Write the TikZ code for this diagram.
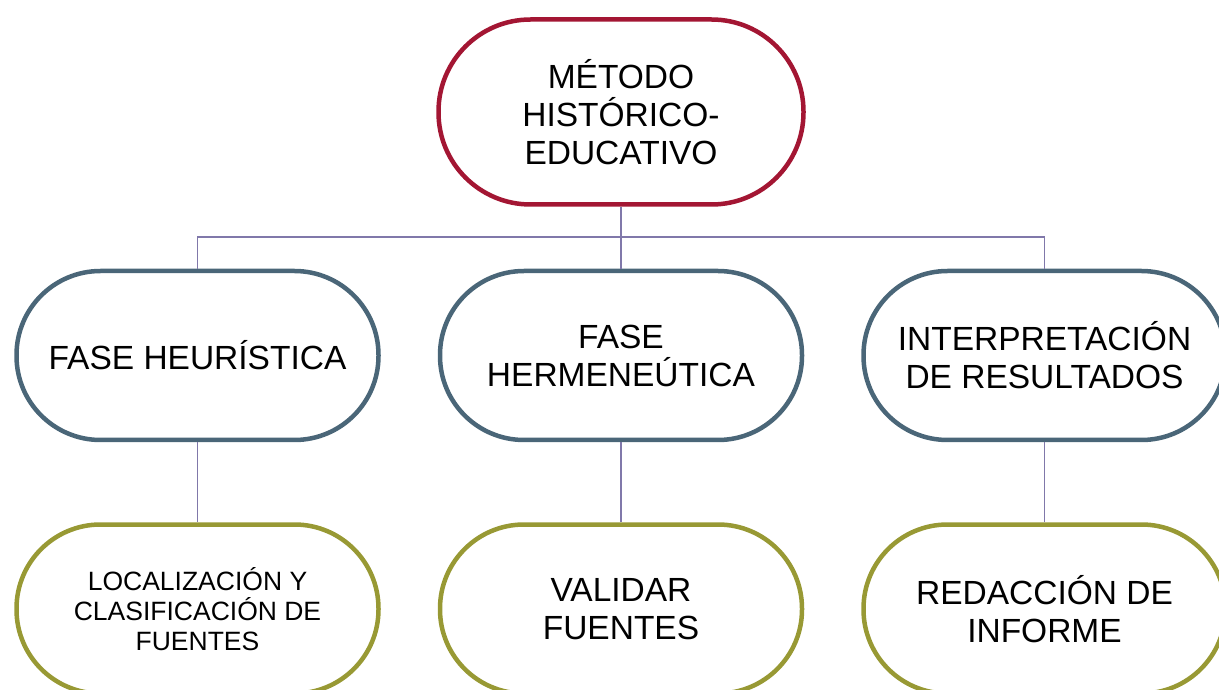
\documentclass[tikz,border=0pt]{standalone}
\usepackage{fontspec}
\setmainfont{Liberation Sans}
\usetikzlibrary{positioning}
\definecolor{metodored}{RGB}{163,22,51}
\definecolor{faseblue}{RGB}{74,102,120}
\definecolor{tareaolive}{RGB}{152,153,52}
\definecolor{linkpurple}{RGB}{128,120,170}
\begin{document}
\begin{tikzpicture}[x=1pt, y=1pt, node distance={62pt and 57pt},
    box/.style = {draw, rectangle, rounded corners=84pt, line width=4.5pt, fill=white, minimum width=362pt, minimum height=169pt, inner sep=2pt, align=center, font=\fontsize{33.5}{38}\selectfont},
    topbox/.style = {box, draw=metodored, minimum width=365pt, minimum height=185pt, rounded corners=92pt},
    fasebox/.style = {box, draw=faseblue},
    tareabox/.style = {box, draw=tareaolive},
    link/.style = {draw=linkpurple, line width=1.6pt}]
                \useasboundingbox (0,0) rectangle (1219,689);
                \node[topbox] (metodo) at (621,577) {MÉTODO\\HISTÓRICO-\\EDUCATIVO};
                \node[fasebox] (hermeneutica) [below=of metodo] {FASE\\HERMENEÚTICA};
                \node[fasebox] (heuristica) [left=of hermeneutica] {FASE HEURÍSTICA};
                \node[fasebox] (resultados) [right=of hermeneutica] {INTERPRETACIÓN\\DE RESULTADOS};
                \node[tareabox, font=\fontsize{26.5}{30}\selectfont] (localizacion) [below=80pt of heuristica] {LOCALIZACIÓN Y\\CLASIFICACIÓN DE\\FUENTES};
                \node[tareabox] (validar) [below=80pt of hermeneutica] {VALIDAR\\FUENTES};
                \node[tareabox] (redaccion) [below=80pt of resultados] {REDACCIÓN DE\\INFORME};
                \coordinate (split) at ([yshift=-30pt]metodo.south);
                \draw[link] (metodo.south) -- (split);
                \draw[link] (split) -| (heuristica.north);
                \draw[link] (split) -| (hermeneutica.north);
                \draw[link] (split) -| (resultados.north);
                \draw[link] (heuristica) -- (localizacion);
                \draw[link] (hermeneutica) -- (validar);
                \draw[link] (resultados) -- (redaccion);
            \end{tikzpicture}
\end{document}
